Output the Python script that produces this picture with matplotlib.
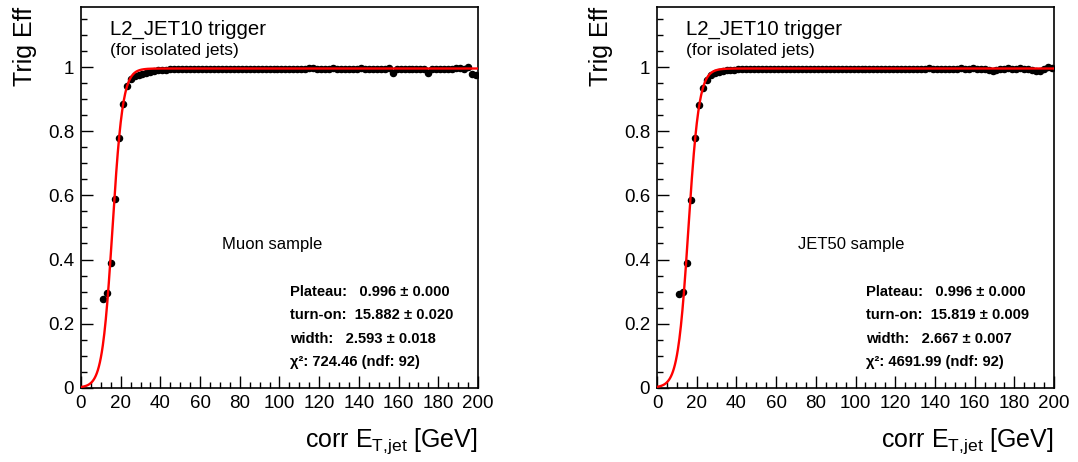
import numpy as np
import matplotlib
matplotlib.use("Agg")
import matplotlib.pyplot as plt
from matplotlib.ticker import MultipleLocator

plt.rcParams['font.family'] = ['Liberation Sans', 'DejaVu Sans']
plt.rcParams['mathtext.default'] = 'regular'

# bin centres [GeV]
et_bins = list(range(11, 200, 2))

# trigger efficiency, muon sample
eff_muon = [
    0.278, 0.297, 0.388, 0.590, 0.780, 0.886, 0.940, 0.962, 0.972, 0.977,
    0.978, 0.983, 0.985, 0.988, 0.990, 0.991, 0.992, 0.993, 0.993, 0.994,
    0.994, 0.993, 0.994, 0.995, 0.994, 0.994, 0.995, 0.994, 0.995, 0.994,
    0.995, 0.994, 0.995, 0.994, 0.994, 0.995, 0.995, 0.994, 0.995, 0.995,
    0.994, 0.995, 0.996, 0.995, 0.994, 0.995, 0.996, 0.995, 0.995, 0.996,
    0.995, 0.996, 0.997, 0.999, 0.996, 0.995, 0.994, 0.996, 0.999, 0.996,
    0.995, 0.996, 0.995, 0.994, 0.996, 0.997, 0.995, 0.996, 0.994, 0.995,
    0.993, 0.996, 0.999, 0.981, 0.993, 0.995, 0.996, 0.995, 0.994, 0.996,
    0.995, 0.996, 0.981, 0.993, 0.995, 0.993, 0.995, 0.994, 0.996, 0.997,
    0.999, 0.996, 1.000, 0.978, 0.976,
]

# trigger efficiency, JET50 sample
eff_jet50 = [
    0.293, 0.300, 0.390, 0.587, 0.778, 0.882, 0.934, 0.961, 0.975, 0.982,
    0.986, 0.988, 0.990, 0.991, 0.992, 0.993, 0.993, 0.994, 0.994, 0.994,
    0.995, 0.994, 0.995, 0.995, 0.995, 0.995, 0.995, 0.996, 0.995, 0.995,
    0.996, 0.995, 0.995, 0.996, 0.995, 0.995, 0.996, 0.995, 0.996, 0.995,
    0.996, 0.995, 0.996, 0.996, 0.995, 0.996, 0.996, 0.995, 0.996, 0.996,
    0.996, 0.995, 0.996, 0.996, 0.996, 0.995, 0.996, 0.996, 0.996, 0.995,
    0.996, 0.996, 0.996, 0.998, 0.996, 0.995, 0.996, 0.995, 0.996, 0.996,
    0.996, 0.997, 0.996, 0.996, 0.997, 0.996, 0.996, 0.995, 0.990, 0.989,
    0.992, 0.995, 0.996, 0.997, 0.996, 0.996, 0.997, 0.996, 0.995, 0.990,
    0.988, 0.989, 0.995, 1.001, 0.997,
]

# fit results (plateau, turn-on, width)
fit_muon = (0.996, 15.882, 2.593)
fit_jet50 = (0.996, 15.819, 2.667)
stats_muon = ["Plateau:   0.996 \u00b1 0.000",
              "turn-on:  15.882 \u00b1 0.020",
              "width:   2.593 \u00b1 0.018",
              "\u03c7\u00b2: 724.46 (ndf: 92)"]
stats_jet50 = ["Plateau:   0.996 \u00b1 0.000",
               "turn-on:  15.819 \u00b1 0.009",
               "width:   2.667 \u00b1 0.007",
               "\u03c7\u00b2: 4691.99 (ndf: 92)"]

yticks = [0, 0.2, 0.4, 0.6, 0.8, 1.0]
ytick_labels = ["0", "0.2", "0.4", "0.6", "0.8", "1"]
xticks = list(range(0, 201, 20))


def turn_on(x, plateau, t0, w):
    return plateau / (1.0 + np.exp(-(x - t0) / w))


def draw_panel(ax, eff, fit, stats, sample):
    xx = np.linspace(0, 200, 800)
    ax.plot(xx, turn_on(xx, *fit), color="red", lw=1.7, zorder=3)
    ax.plot(et_bins, eff, "o", color="black", ms=4.4, zorder=2)

    ax.set_xlim(0, 200)
    ax.set_ylim(0, 1.187)
    ax.set_xticks(xticks)
    ax.set_xticklabels([str(v) for v in xticks])
    ax.set_yticks(yticks)
    ax.set_yticklabels(ytick_labels)
    ax.xaxis.set_minor_locator(MultipleLocator(5))
    ax.yaxis.set_minor_locator(MultipleLocator(0.05))
    ax.tick_params(which="both", direction="in", top=False, right=False,
                   width=1.0, labelsize=13.5)
    ax.tick_params(which="major", length=8.6)
    ax.tick_params(which="minor", length=4.3)
    ax.tick_params(axis="y", pad=5)
    ax.tick_params(axis="x", pad=5)
    for s in ax.spines.values():
        s.set_linewidth(1.2)

    ax.text(14.6, 1.101, "L2_JET10 trigger", fontsize=14.7)
    ax.text(14.6, 1.038, "(for isolated jets)", fontsize=12.5)
    ax.text(71, 0.433, sample, fontsize=12)
    for i, line in enumerate(stats):
        ax.text(105.5, 0.286 - i * 0.0725, line, fontsize=10.6, fontweight="bold")

    ax.text(1.0, -0.156, r"corr E$_{\mathregular{T{,}jet}}$ [GeV]", transform=ax.transAxes,
            ha="right", va="baseline", fontsize=18)
    ax.text(-0.141, 1.0, "Trig Eff", transform=ax.transAxes, rotation=90,
            ha="center", va="top", fontsize=18)


fig = plt.figure(figsize=(10.78, 4.62), dpi=100)
ax1 = fig.add_axes([0.0751, 0.1608, 0.3683, 0.8234])
ax2 = fig.add_axes([0.6095, 0.1608, 0.3683, 0.8234])

draw_panel(ax1, eff_muon, fit_muon, stats_muon, "Muon sample")
draw_panel(ax2, eff_jet50, fit_jet50, stats_jet50, "JET50 sample")

fig.savefig("out.png", dpi=100)
